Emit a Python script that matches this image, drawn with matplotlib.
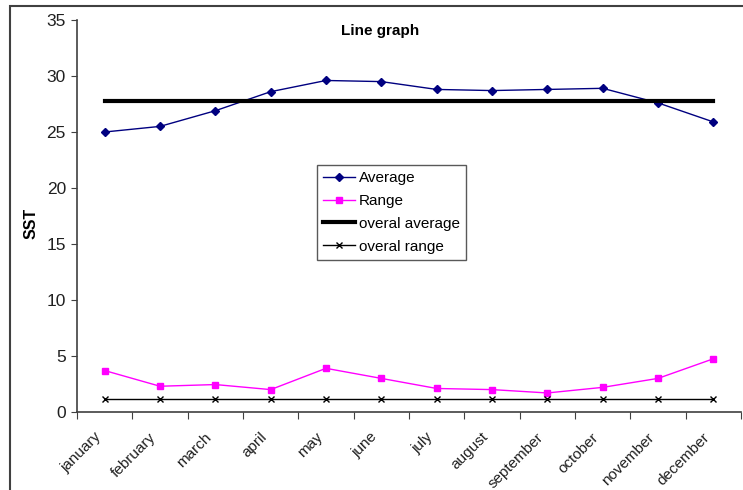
import matplotlib
matplotlib.use("Agg")
import matplotlib.pyplot as plt
import matplotlib.transforms as mtransforms
import numpy as np
from matplotlib.patches import Rectangle

plt.rcParams['font.family'] = ['Liberation Sans', 'DejaVu Sans']

months = ["january", "february", "march", "april", "may", "june", "july",
          "august", "september", "october", "november", "december"]
average = [25.0, 25.5, 26.9, 28.6, 29.6, 29.5, 28.8, 28.7, 28.8, 28.9, 27.6, 25.9]
range_ = [3.7, 2.3, 2.45, 2.0, 3.9, 3.0, 2.1, 2.0, 1.7, 2.2, 3.0, 4.75]
overall_average = 27.8
overall_range = 1.2
yticks = [0, 5, 10, 15, 20, 25, 30, 35]

fig = plt.figure(figsize=(7.43, 4.9), dpi=100)
ax = fig.add_axes([77/743, 1 - 412/490, (741 - 77)/743, (412 - 20)/490])

x = np.arange(len(months))
ax.plot(x, average, color='#000080', marker='D', markersize=4, linewidth=1, label='Average')
ax.plot(x, range_, color='#FF00FF', marker='s', markersize=5, linewidth=1, label='Range')
ax.plot(x, [overall_average]*len(x), color='black', linewidth=3, label='overal average')
ax.plot(x, [overall_range]*len(x), color='black', marker='x', markersize=4, markeredgewidth=1,
        linewidth=1, label='overal range')

ax.set_xlim(-0.5, len(months) - 0.5)
ax.set_ylim(0, 35)
ax.set_yticks(yticks)
ax.tick_params(axis='y', direction='out', length=4, labelsize=12.5, colors='#404040',
               labelcolor='#202020', pad=4)
ax.set_xticks(np.arange(-0.5, len(months), 1))
ax.set_xticklabels([])
ax.tick_params(axis='x', which='major', direction='out', length=5, colors='#404040')
ax.set_xticks(x, minor=True)
ax.set_xticklabels(months, minor=True, rotation=45, ha='right', rotation_mode='anchor',
                   fontsize=11, color='#202020')
ax.tick_params(axis='x', which='minor', length=0, pad=13)
offset = mtransforms.ScaledTranslation(-11/100, 0, fig.dpi_scale_trans)
for lbl in ax.get_xticklabels(minor=True):
    lbl.set_transform(lbl.get_transform() + offset)

for s in ['top', 'right']:
    ax.spines[s].set_visible(False)
for s in ['left', 'bottom']:
    ax.spines[s].set_color('#404040')
    ax.spines[s].set_linewidth(1.2)

fig.text(31/743, 1 - 223/490, 'SST', rotation=90, ha='center', va='center',
         fontsize=11.5, fontweight='bold')
fig.text(380/743, 1 - 31/490, 'Line graph', ha='center', va='center', fontsize=11, fontweight='bold')

leg = ax.legend(loc='upper left', bbox_to_anchor=((317 - 77)/664, (412 - 165)/392),
                frameon=True, fancybox=False, edgecolor='#303030', fontsize=11,
                handlelength=2.1, borderpad=0.4, labelspacing=0.58, handletextpad=0.25,
                borderaxespad=0)
leg.get_frame().set_linewidth(1)

fig.patches.append(Rectangle((10/743, -0.1), 1.2, 1 - 6/490 + 0.1, transform=fig.transFigure,
                             fill=False, edgecolor='#404040', linewidth=1.5))

fig.savefig('out.png', dpi=100)
